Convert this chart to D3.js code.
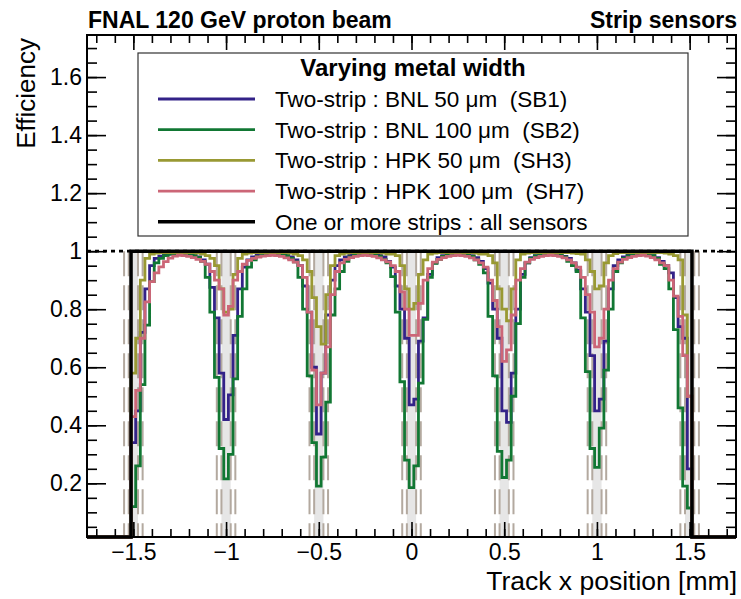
<!DOCTYPE html>
<html>
<head>
<meta charset="utf-8">
<script src="https://cdn.jsdelivr.net/npm/d3@7"></script>
<style>
  body { margin: 0; background: #fff; }
  svg { display: block; font-family: "Liberation Sans", Arial, Helvetica, sans-serif; }
</style>
</head>
<body>
<svg id="chart"></svg>
<script>
// Histogram bins: 0.025 mm wide, centred on -1.5, -1.475, ... , 1.5 (121 bins)
const binWidth = 0.025;
const firstBinCenter = -1.5;

// Two-strip efficiency, BNL 50 um (SB1)
const effSB1 = [
  0.34, 0.45, 0.72, 0.87, 0.95, 0.975, 0.983, 0.988, 0.99, 0.992, 0.993,
  0.992, 0.99, 0.986, 0.98, 0.97, 0.955, 0.875, 0.77, 0.58, 0.42, 0.505, 0.71, 0.87, 0.945, 0.97, 0.98, 0.986, 0.99, 0.992, 0.993,
  0.992, 0.99, 0.986, 0.98, 0.97, 0.95, 0.88, 0.79, 0.60, 0.37, 0.58, 0.78, 0.90, 0.95, 0.97, 0.98, 0.986, 0.99, 0.992, 0.993,
  0.992, 0.99, 0.986, 0.98, 0.965, 0.945, 0.88, 0.80, 0.70, 0.47, 0.49, 0.69, 0.77, 0.92, 0.96, 0.978, 0.985, 0.99, 0.992, 0.993,
  0.992, 0.99, 0.985, 0.978, 0.965, 0.94, 0.89, 0.80, 0.70, 0.45, 0.41, 0.58, 0.80, 0.92, 0.96, 0.978, 0.985, 0.99, 0.992, 0.993,
  0.99, 0.987, 0.982, 0.975, 0.96, 0.935, 0.87, 0.79, 0.64, 0.45, 0.49, 0.69, 0.87, 0.95, 0.97, 0.98, 0.986, 0.989, 0.99, 0.99,
  0.988, 0.985, 0.978, 0.965, 0.95, 0.925, 0.84, 0.74, 0.70, 0.25
];

// Two-strip efficiency, BNL 100 um (SB2)
const effSB2 = [
  0.12, 0.26, 0.54, 0.745, 0.895, 0.96, 0.975, 0.985, 0.99, 0.992, 0.993,
  0.992, 0.99, 0.985, 0.978, 0.965, 0.91, 0.79, 0.565, 0.32, 0.215, 0.30, 0.56, 0.775, 0.87, 0.945, 0.97, 0.982, 0.988, 0.992, 0.993,
  0.992, 0.99, 0.985, 0.975, 0.963, 0.91, 0.80, 0.57, 0.34, 0.19, 0.29, 0.48, 0.78, 0.87, 0.93, 0.965, 0.98, 0.988, 0.992, 0.993,
  0.992, 0.988, 0.982, 0.972, 0.96, 0.912, 0.79, 0.55, 0.28, 0.185, 0.26, 0.545, 0.765, 0.91, 0.958, 0.972, 0.982, 0.988, 0.992, 0.993,
  0.992, 0.988, 0.982, 0.97, 0.955, 0.925, 0.775, 0.57, 0.31, 0.22, 0.28, 0.50, 0.75, 0.91, 0.96, 0.975, 0.984, 0.989, 0.992, 0.993,
  0.992, 0.988, 0.98, 0.965, 0.95, 0.93, 0.77, 0.585, 0.32, 0.255, 0.39, 0.59, 0.80, 0.93, 0.96, 0.975, 0.984, 0.988, 0.99, 0.99,
  0.988, 0.985, 0.975, 0.955, 0.94, 0.87, 0.73, 0.46, 0.19, 0.115
];

// Two-strip efficiency, HPK 50 um (SH3)
const effSH3 = [
  0.58, 0.70, 0.90, 0.975, 0.99, 0.993, 0.995, 0.995, 0.995, 0.995, 0.995,
  0.995, 0.995, 0.995, 0.993, 0.99, 0.985, 0.975, 0.95, 0.87, 0.79, 0.80, 0.92, 0.975, 0.99, 0.993, 0.995, 0.995, 0.995, 0.995, 0.995,
  0.995, 0.995, 0.995, 0.993, 0.99, 0.985, 0.97, 0.93, 0.84, 0.74, 0.68, 0.85, 0.95, 0.985, 0.99, 0.993, 0.995, 0.995, 0.995, 0.995,
  0.995, 0.995, 0.995, 0.993, 0.99, 0.99, 0.985, 0.95, 0.87, 0.80, 0.82, 0.92, 0.97, 0.99, 0.993, 0.995, 0.995, 0.995, 0.995, 0.995,
  0.995, 0.995, 0.995, 0.993, 0.99, 0.99, 0.985, 0.96, 0.87, 0.80, 0.76, 0.87, 0.97, 0.99, 0.993, 0.995, 0.995, 0.995, 0.995, 0.995,
  0.995, 0.995, 0.995, 0.995, 0.993, 0.992, 0.99, 0.97, 0.93, 0.87, 0.88, 0.96, 0.985, 0.992, 0.995, 0.995, 0.995, 0.995, 0.995, 0.995,
  0.995, 0.995, 0.995, 0.995, 0.993, 0.99, 0.985, 0.97, 0.78, 0.50
];

// Two-strip efficiency, HPK 100 um (SH7)
const effSH7 = [
  0.43, 0.52, 0.70, 0.825, 0.895, 0.925, 0.946, 0.964, 0.976, 0.983, 0.986,
  0.985, 0.982, 0.978, 0.972, 0.965, 0.955, 0.93, 0.90, 0.87, 0.78, 0.81, 0.90, 0.93, 0.955, 0.968, 0.975, 0.98, 0.983, 0.985, 0.986,
  0.985, 0.982, 0.977, 0.97, 0.962, 0.95, 0.91, 0.79, 0.59, 0.47, 0.58, 0.67, 0.85, 0.93, 0.96, 0.972, 0.978, 0.982, 0.985, 0.986,
  0.985, 0.982, 0.977, 0.97, 0.963, 0.95, 0.93, 0.86, 0.80, 0.71, 0.71, 0.82, 0.90, 0.94, 0.962, 0.972, 0.978, 0.982, 0.985, 0.986,
  0.985, 0.982, 0.977, 0.97, 0.96, 0.945, 0.90, 0.83, 0.74, 0.62, 0.66, 0.78, 0.90, 0.94, 0.962, 0.972, 0.978, 0.982, 0.985, 0.986,
  0.985, 0.982, 0.977, 0.97, 0.96, 0.945, 0.91, 0.85, 0.79, 0.67, 0.70, 0.80, 0.90, 0.94, 0.962, 0.972, 0.978, 0.982, 0.985, 0.986,
  0.983, 0.978, 0.97, 0.96, 0.95, 0.90, 0.845, 0.775, 0.64, 0.50
];

// One or more strips, all sensors
const effAny = [
  1, 1, 1, 1, 1, 1, 1, 1, 1, 1, 1,
  1, 1, 1, 1, 1, 1, 1, 1, 1, 1, 1, 1, 1, 1, 1, 1, 1, 1, 1, 1,
  1, 1, 1, 1, 1, 1, 1, 1, 1, 1, 1, 1, 1, 1, 1, 1, 1, 1, 1, 1,
  1, 1, 1, 1, 1, 1, 1, 1, 1, 1, 1, 1, 1, 1, 1, 1, 1, 1, 1, 1,
  1, 1, 1, 1, 1, 1, 1, 1, 1, 1, 1, 1, 1, 1, 1, 1, 1, 1, 1, 1,
  1, 1, 1, 1, 1, 1, 1, 1, 1, 1, 1, 1, 1, 1, 1, 1, 1, 1, 1, 1,
  1, 1, 1, 1, 1, 1, 1, 1, 1, 1
];

const legendLabels = [
  "Two-strip : BNL 50 \u03bcm  (SB1)",
  "Two-strip : BNL 100 \u03bcm  (SB2)",
  "Two-strip : HPK 50 \u03bcm  (SH3)",
  "Two-strip : HPK 100 \u03bcm  (SH7)",
  "One or more strips : all sensors"
];

// Strip centres and metal half-widths (50 um and 100 um metal)
const stripCenters = [-1.5, -1, -0.5, 0, 0.5, 1, 1.5];
const metalHalfWidths = [0.025, 0.05];

const xTickValues = [-1.5, -1, -0.5, 0, 0.5, 1, 1.5];
const xTickLabels = ["\u22121.5", "\u22121", "\u22120.5", "0", "0.5", "1", "1.5"];
const yTickValues = [0.2, 0.4, 0.6, 0.8, 1, 1.2, 1.4, 1.6];
const yTickLabels = ["0.2", "0.4", "0.6", "0.8", "1", "1.2", "1.4", "1.6"];

// styles
const seriesData = [effSB1, effSB2, effSH3, effSH7, effAny];
const seriesColors = ["#332288", "#117733", "#999933", "#cc6677", "#000000"];
const seriesWidths = [2.8, 2.8, 2.8, 2.8, 3.5];

const W = 741, H = 599;
const margin = { top: 35, right: 5, bottom: 62, left: 87 },
  w = W - margin.left - margin.right,
  h = H - margin.top - margin.bottom;

const xMin = -1.75, xMax = 1.75, yMin = 0.015, yMax = 1.745;

const svg = d3.select("#chart").attr("width", W).attr("height", H);

const x = d3.scaleLinear().domain([xMin, xMax]).range([0, w]);
const y = d3.scaleLinear().domain([yMin, yMax]).range([h, 0]);

const g = svg.append("g").attr("transform", `translate(${margin.left},${margin.top})`);

svg.append("defs").append("clipPath").attr("id", "plotclip")
  .append("rect").attr("x", 0).attr("y", -2).attr("width", w).attr("height", h + 4);

const plot = g.append("g").attr("clip-path", "url(#plotclip)");

// metal regions: light band (50 um) and dashed edges
plot.selectAll(".band")
  .data(stripCenters)
  .join("rect")
  .attr("class", "band")
  .attr("x", d => x(d - metalHalfWidths[0]))
  .attr("width", d => x(d + metalHalfWidths[0]) - x(d - metalHalfWidths[0]))
  .attr("y", y(1))
  .attr("height", h - y(1))
  .style("fill", "#e6e6e6");

const edgeLines = [];
stripCenters.forEach(c => metalHalfWidths.forEach(hw => { edgeLines.push(c - hw, c + hw); }));

plot.selectAll(".edge")
  .data(edgeLines)
  .join("line")
  .attr("class", "edge")
  .attr("x1", d => x(d)).attr("x2", d => x(d))
  .attr("y1", y(1)).attr("y2", h)
  .style("stroke", "#b3a99f")
  .style("stroke-width", 2)
  .style("stroke-dasharray", "25,9");

// histogram outline as step path
function histPoints(values) {
  const lo0 = firstBinCenter - binWidth / 2;
  const pts = [[xMin, yMin], [lo0, yMin]];
  values.forEach((v, i) => {
    const lo = lo0 + i * binWidth;
    const vv = Math.max(v, yMin);
    pts.push([lo, vv], [lo + binWidth, vv]);
  });
  pts.push([lo0 + values.length * binWidth, yMin], [xMax, yMin]);
  return pts;
}

const line = d3.line().x(d => x(d[0])).y(d => y(d[1]));

plot.selectAll(".hist")
  .data(seriesData)
  .join("path")
  .attr("class", "hist")
  .attr("d", d => line(histPoints(d)))
  .style("fill", "none")
  .style("stroke", (d, i) => seriesColors[i])
  .style("stroke-width", (d, i) => seriesWidths[i])
  .style("stroke-linejoin", "miter");

// dotted line at efficiency 1
g.append("line")
  .attr("x1", 0).attr("x2", w)
  .attr("y1", y(1)).attr("y2", y(1))
  .style("stroke", "#000")
  .style("stroke-width", 2.8)
  .style("stroke-dasharray", "4,4");

// axes: major + minor ticks, pointing inwards, mirrored
const xMinor = d3.range(-17, 18).map(k => k / 10);
const yMinor = d3.range(1, 35).map(k => k * 0.05);

function styleAxis(sel) {
  sel.select(".domain").remove();
  sel.selectAll(".tick line").style("stroke", "#000").style("stroke-width", 1.6);
  sel.selectAll(".tick text").style("font-size", "23px").style("fill", "#000")
    .style("font-family", '"Liberation Sans", Arial, sans-serif');
}

g.append("g").attr("transform", `translate(0,${h})`)
  .call(d3.axisBottom(x).tickValues(xMinor).tickFormat("").tickSizeInner(-8).tickSizeOuter(0))
  .call(styleAxis);
g.append("g").attr("transform", `translate(0,${h})`)
  .call(d3.axisBottom(x).tickValues(xTickValues).tickFormat((d, i) => xTickLabels[i])
    .tickSizeInner(-15).tickSizeOuter(0).tickPadding(7))
  .call(styleAxis);
g.append("g")
  .call(d3.axisTop(x).tickValues(xMinor).tickFormat("").tickSizeInner(-8).tickSizeOuter(0))
  .call(styleAxis);
g.append("g")
  .call(d3.axisTop(x).tickValues(xTickValues).tickFormat("").tickSizeInner(-15).tickSizeOuter(0))
  .call(styleAxis);

g.append("g")
  .call(d3.axisLeft(y).tickValues(yMinor).tickFormat("").tickSizeInner(-10).tickSizeOuter(0))
  .call(styleAxis);
g.append("g")
  .call(d3.axisLeft(y).tickValues(yTickValues).tickFormat((d, i) => yTickLabels[i])
    .tickSizeInner(-19).tickSizeOuter(0).tickPadding(5))
  .call(styleAxis);
g.append("g").attr("transform", `translate(${w},0)`)
  .call(d3.axisRight(y).tickValues(yMinor).tickFormat("").tickSizeInner(-10).tickSizeOuter(0))
  .call(styleAxis);
g.append("g").attr("transform", `translate(${w},0)`)
  .call(d3.axisRight(y).tickValues(yTickValues).tickFormat("").tickSizeInner(-19).tickSizeOuter(0))
  .call(styleAxis);

// frame
g.append("rect")
  .attr("width", w).attr("height", h)
  .style("fill", "none")
  .style("stroke", "#000")
  .style("stroke-width", 2);

// legend
const legend = svg.append("g").attr("transform", "translate(138,53)");
legend.append("rect")
  .attr("width", 550).attr("height", 183)
  .style("fill", "#fff")
  .style("stroke", "#333")
  .style("stroke-width", 1.2);
legend.append("text")
  .attr("x", 275).attr("y", 23)
  .attr("text-anchor", "middle")
  .style("font-size", "24px")
  .style("font-weight", "bold")
  .text("Varying metal width");

const rows = legend.selectAll(".row")
  .data(legendLabels)
  .join("g")
  .attr("class", "row")
  .attr("transform", (d, i) => `translate(0,${46 + i * 30.7})`);
rows.append("line")
  .attr("x1", 20).attr("x2", 117)
  .style("stroke", (d, i) => seriesColors[i])
  .style("stroke-width", (d, i) => seriesWidths[i]);
rows.append("text")
  .attr("x", 137).attr("y", 8)
  .style("font-size", "22.5px")
  .style("white-space", "pre")
  .text(d => d);

// header and axis titles
svg.append("text")
  .attr("x", 88).attr("y", 28)
  .style("font-size", "23px").style("font-weight", "bold")
  .text("FNAL 120 GeV proton beam");
svg.append("text")
  .attr("x", 737).attr("y", 28)
  .attr("text-anchor", "end")
  .style("font-size", "23px").style("font-weight", "bold")
  .text("Strip sensors");

svg.append("text")
  .attr("x", 737).attr("y", 590)
  .attr("text-anchor", "end")
  .style("font-size", "26.5px")
  .text("Track x position [mm]");
svg.append("text")
  .attr("transform", "translate(35,38) rotate(-90)")
  .attr("text-anchor", "end")
  .style("font-size", "26px")
  .text("Efficiency");
</script>
</body>
</html>
